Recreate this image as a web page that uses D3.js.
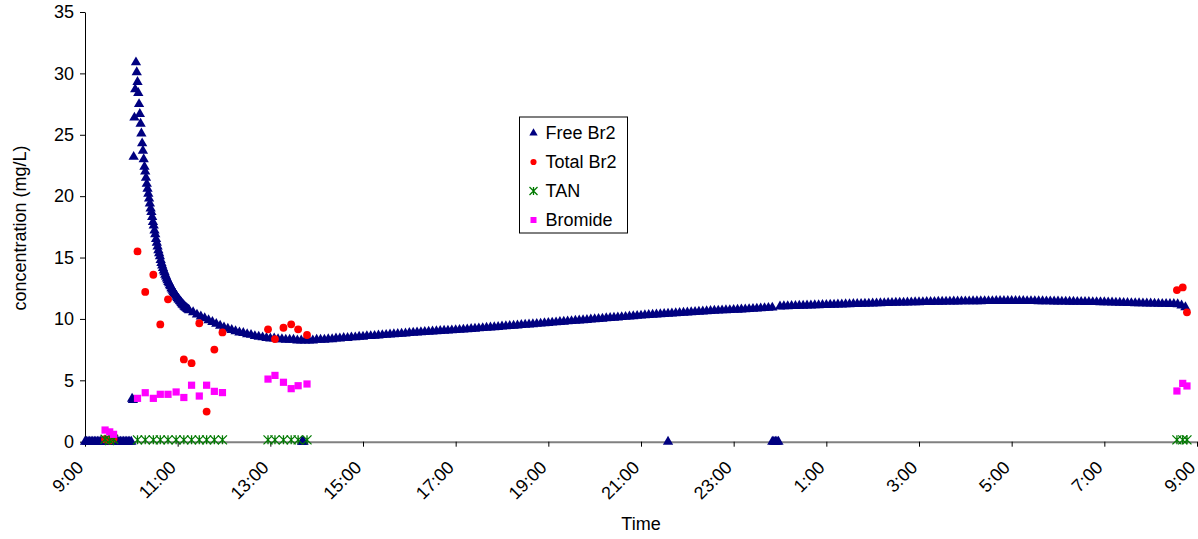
<!DOCTYPE html>
<html>
<head>
<meta charset="utf-8">
<script src="https://cdn.jsdelivr.net/npm/d3@7"></script>
<style>
  body { margin: 0; background: #fff; }
  text { font-family: 'Liberation Sans', Arial, sans-serif; }
</style>
</head>
<body>
<div id="chart"></div>
<script>
const width = 1198
const height = 539

// time is kept as minutes after 9:00
const startTime = new Date(2000, 0, 1, 9, 0)
const endTime = new Date(2000, 0, 2, 9, 0)

// Free Br2 logger readings
const freeZeroStart = 0
const freeZeroStep = 2
const freeZeroValues = [0, 0, 0, 0, 0, 0, 0, 0, 0, 0, 0, 0, 0, 0, 0, 0, 0, 0, 0, 0, 0, 0, 0, 0, 0, 0, 0, 0, 0, 0, 0]

const freePeakStart = 61
const freePeakStep = 1
const freePeakValues = [
  3.5, 3.4, 23.2, 26.4, 28.7, 30.9, 30.1, 29.3, 28.4, 27.5, 26.7, 25.9, 25.1, 24.3, 23.7, 23.0,
  22.4, 22.0, 21.5, 21.0, 20.6, 20.2, 19.8, 19.4, 19.0, 18.7, 18.3, 17.9, 17.6, 17.2, 16.9, 16.5,
  16.2, 15.9, 15.6, 15.35, 15.1, 14.8, 14.55, 14.35, 14.15, 13.95, 13.8, 13.6, 13.45, 13.3, 13.15,
  13.0, 12.9, 12.75, 12.65, 12.5, 12.4, 12.3, 12.2, 12.1, 12.0, 11.9, 11.8, 11.7, 11.6, 11.55,
  11.45, 11.4, 11.3, 11.2, 11.15, 11.1, 11.0, 10.95, 10.9, 10.85, 10.8, 10.75
]

const freeLongStart = 135
const freeLongStep = 5
const freeLongValues = [
  10.70, 10.55, 10.35, 10.20, 10.05, 9.90, 9.75, 9.60, 9.45, 9.30, 9.20, 9.10,
  9.00, 8.90, 8.85, 8.75, 8.70, 8.60, 8.55, 8.50, 8.45, 8.40, 8.40, 8.35,
  8.35, 8.30, 8.30, 8.30, 8.25, 8.25, 8.25, 8.25, 8.25, 8.30, 8.30, 8.30,
  8.35, 8.35, 8.40, 8.40, 8.45, 8.45, 8.50, 8.50, 8.55, 8.55, 8.60, 8.60,
  8.62, 8.65, 8.68, 8.70, 8.73, 8.75, 8.78, 8.80, 8.82, 8.85, 8.87, 8.90,
  8.92, 8.94, 8.96, 8.98, 9.00, 9.02, 9.04, 9.05, 9.07, 9.09, 9.11, 9.13,
  9.15, 9.18, 9.20, 9.23, 9.25, 9.28, 9.30, 9.33, 9.35, 9.38, 9.40, 9.42,
  9.45, 9.47, 9.50, 9.52, 9.55, 9.57, 9.60, 9.62, 9.65, 9.67, 9.70, 9.72,
  9.75, 9.77, 9.80, 9.82, 9.85, 9.87, 9.90, 9.92, 9.95, 9.97, 10.00, 10.02,
  10.05, 10.07, 10.10, 10.12, 10.15, 10.17, 10.20, 10.22, 10.25, 10.27, 10.30, 10.32,
  10.34, 10.36, 10.38, 10.40, 10.42, 10.44, 10.46, 10.48, 10.50, 10.52, 10.54, 10.56,
  10.58, 10.60, 10.62, 10.64, 10.66, 10.68, 10.70, 10.71, 10.72, 10.74, 10.75, 10.77,
  10.78, 10.80, 10.82, 10.84, 10.86, 10.88, 10.90, 10.92, null, 11.02, 11.03, 11.04,
  11.05, 11.06, 11.07, 11.08, 11.09, 11.10, 11.11, 11.12, 11.13, 11.14, 11.15, 11.16,
  11.17, 11.18, 11.19, 11.20, 11.21, 11.22, 11.23, 11.24, 11.25, 11.26, 11.27, 11.28,
  11.29, 11.30, 11.31, 11.32, 11.33, 11.33, 11.34, 11.35, 11.36, 11.36, 11.37, 11.38,
  11.38, 11.39, 11.40, 11.40, 11.41, 11.41, 11.42, 11.42, 11.43, 11.43, 11.43, 11.44,
  11.44, 11.44, 11.45, 11.45, 11.45, 11.46, 11.46, 11.46, 11.46, 11.46, 11.46, 11.46,
  11.46, 11.45, 11.45, 11.45, 11.44, 11.44, 11.43, 11.43, 11.42, 11.42, 11.41, 11.41,
  11.40, 11.40, 11.39, 11.39, 11.38, 11.38, 11.37, 11.37, 11.36, 11.36, 11.35, 11.34,
  11.33, 11.32, 11.31, 11.30, 11.29, 11.28, 11.28, 11.27, 11.26, 11.26, 11.25, 11.24,
  11.23, 11.23, 11.22, 11.21, 11.20, 11.10, 10.95
]

// logger dropouts read as zero
const freeDropMinutes = [281, 282, 283, 755, 890, 892, 894, 896, 898]
const freeDropValues = [0, 0, 0, 0, 0, 0, 0, 0, 0]

// grab samples
const sampleMinutes = [26, 32, 37, 68, 78, 88.5, 97.5, 107.5, 118, 128, 138, 148, 157.5, 167.5, 178,
  237, 246, 257, 267, 276, 287.5, 1414, 1421.5, 1427]
const totalBr2 = [0.2, 0.1, 0.25, 15.5, 12.2, 13.6, 9.55, 11.6, null, 6.7, 6.4, 9.65, 2.45, 7.5, 8.9,
  9.15, 8.36, 9.28, 9.56, 9.15, 8.69, 12.35, 12.57, 10.54]
const tan = [0.2, 0.1, 0.2, 0.15, 0.15, 0.15, 0.15, 0.15, 0.15, 0.15, 0.15, 0.15, 0.15, 0.15, 0.15,
  0.15, 0.15, 0.15, 0.15, 0.15, 0.15, 0.15, 0.15, 0.15]
const bromide = [0.95, 0.8, 0.6, 3.53, 3.99, 3.53, 3.86, 3.86, 4.05, 3.6, 4.6, 3.72, 4.6, 4.1, 4.0,
  5.1, 5.4, 4.84, 4.32, 4.56, 4.7, 4.13, 4.75, 4.54]

const yTicks = [0, 5, 10, 15, 20, 25, 30, 35]
const seriesNames = ['Free Br2', 'Total Br2', 'TAN', 'Bromide']
const seriesColors = ['#000080', '#ff0000', '#007a00', '#ff00ff']

const fontSize = '18px'

const atMinute = m => new Date(+startTime + m * 60000)

const freeBr2 = [
  ...freeZeroValues.map((v, i) => ({ t: freeZeroStart + i * freeZeroStep, v })),
  ...freePeakValues.map((v, i) => ({ t: freePeakStart + i * freePeakStep, v })),
  ...freeLongValues.map((v, i) => ({ t: freeLongStart + i * freeLongStep, v })),
  ...freeDropValues.map((v, i) => ({ t: freeDropMinutes[i], v }))
].filter(d => d.v != null)

const samples = values =>
  values.map((v, i) => ({ t: sampleMinutes[i], v })).filter(d => d.v != null)

const svg = d3
  .select('#chart')
  .append('svg')
  .attr('width', width)
  .attr('height', height)

const x = d3.scaleTime().domain([startTime, endTime]).range([85, 1197])
const y = d3.scaleLinear().domain([0, 35]).range([441.7, 12])

// axes
const yAxis = svg
  .append('g')
  .attr('transform', 'translate(85,0)')
  .call(d3.axisLeft(y).tickValues(yTicks).tickSize(5).tickSizeOuter(0).tickPadding(6))
yAxis.select('.domain').attr('stroke', '#000')
yAxis.selectAll('.tick line').attr('stroke', '#000')
yAxis.selectAll('text').style('font-size', fontSize).attr('fill', '#000')

const hourTicks = d3.timeHour.range(startTime, new Date(+endTime + 1), 2)
const xAxis = svg
  .append('g')
  .attr('transform', 'translate(0,' + y(0) + ')')
  .call(
    d3
      .axisBottom(x)
      .tickValues(hourTicks)
      .tickSize(5)
      .tickSizeOuter(0)
      .tickFormat(d3.timeFormat('%-H:%M'))
  )
xAxis.select('.domain').attr('stroke', '#808080').attr('stroke-width', 2)
xAxis.selectAll('.tick line').attr('stroke', '#000')
xAxis
  .selectAll('text')
  .style('font-size', fontSize)
  .attr('fill', '#000')
  .attr('text-anchor', 'end')
  .attr('x', 0)
  .attr('y', 0)
  .attr('dy', 0)
  .attr('transform', 'translate(-1,27) rotate(-45)')

svg
  .append('text')
  .attr('transform', 'translate(26,228) rotate(-90)')
  .attr('text-anchor', 'middle')
  .style('font-size', fontSize)
  .text('concentration (mg/L)')

svg
  .append('text')
  .attr('x', 641)
  .attr('y', 530)
  .attr('text-anchor', 'middle')
  .style('font-size', fontSize)
  .text('Time')

// markers
const triangle = d3.symbol(d3.symbolTriangle, 46)()
const circle = d3.symbol(d3.symbolCircle, 48)()
const square = d3.symbol(d3.symbolSquare, 52)()
const star = r =>
  `M${-r},${-r}L${r},${r}M${-r},${r}L${r},${-r}M0,${-r}L0,${r}`

function drawPoints(data, path, color, stroked) {
  svg
    .append('g')
    .selectAll('path')
    .data(data)
    .enter()
    .append('path')
    .attr('d', path)
    .attr('transform', d => `translate(${x(atMinute(d.t))},${y(d.v)})`)
    .attr('fill', stroked ? 'none' : color)
    .attr('stroke', stroked ? color : 'none')
    .attr('stroke-width', 1.3)
}

drawPoints(freeBr2, triangle, seriesColors[0], false)
drawPoints(samples(totalBr2), circle, seriesColors[1], false)
drawPoints(samples(tan), star(4.5), seriesColors[2], true)
drawPoints(samples(bromide), square, seriesColors[3], false)

// legend
const legend = svg.append('g').attr('transform', 'translate(519.5,117)')
legend
  .append('rect')
  .attr('width', 108)
  .attr('height', 116)
  .attr('fill', '#fff')
  .attr('stroke', '#000')
const legendShapes = [
  d3.symbol(d3.symbolTriangle, 30)(),
  d3.symbol(d3.symbolCircle, 30)(),
  star(4),
  d3.symbol(d3.symbolSquare, 36)()
]
seriesNames.forEach((name, i) => {
  const cy = 16 + i * 29
  legend
    .append('path')
    .attr('d', legendShapes[i])
    .attr('transform', `translate(14,${cy})`)
    .attr('fill', i === 2 ? 'none' : seriesColors[i])
    .attr('stroke', i === 2 ? seriesColors[i] : 'none')
    .attr('stroke-width', 1.3)
  legend
    .append('text')
    .attr('x', 26)
    .attr('y', cy)
    .attr('dy', '0.35em')
    .style('font-size', fontSize)
    .text(name)
})
</script>
</body>
</html>
